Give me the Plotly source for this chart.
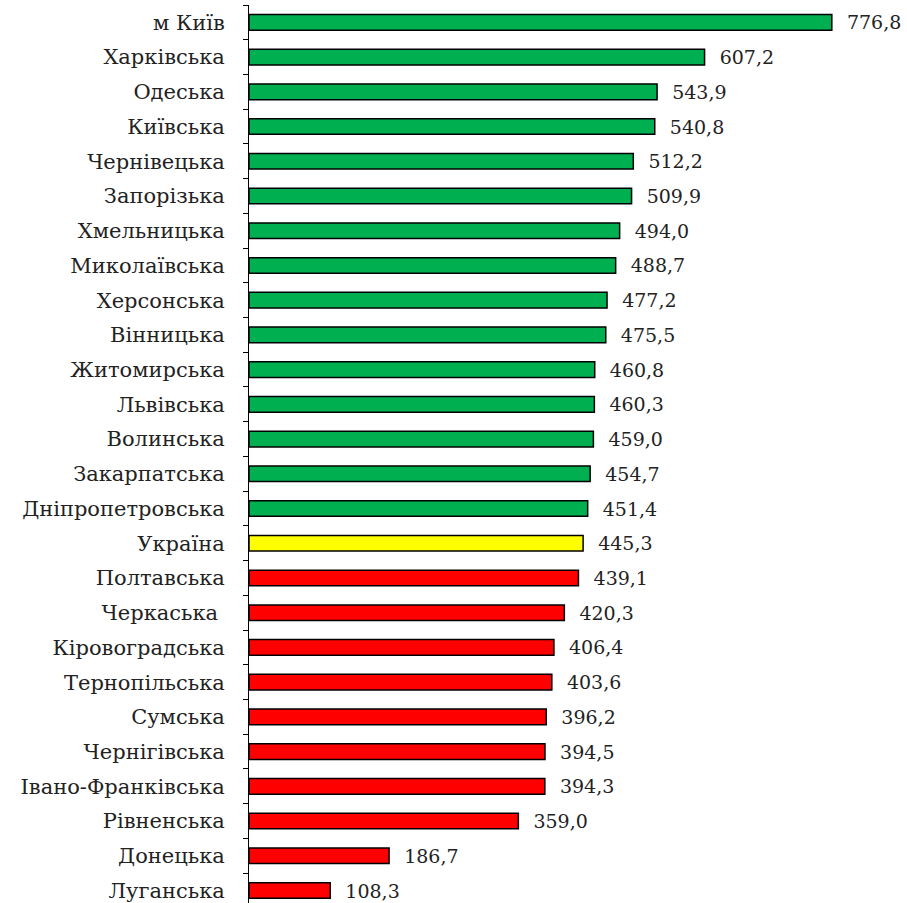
import plotly.graph_objects as go

regions = ["м Київ", "Харківська", "Одеська", "Київська", "Чернівецька", "Запорізька",
           "Хмельницька", "Миколаївська", "Херсонська", "Вінницька", "Житомирська",
           "Львівська", "Волинська", "Закарпатська", "Дніпропетровська", "Україна",
           "Полтавська", "Черкаська ", "Кіровоградська", "Тернопільська", "Сумська",
           "Чернігівська", "Івано-Франківська", "Рівненська", "Донецька", "Луганська"]
values = [776.8, 607.2, 543.9, 540.8, 512.2, 509.9, 494.0, 488.7, 477.2, 475.5, 460.8,
          460.3, 459.0, 454.7, 451.4, 445.3, 439.1, 420.3, 406.4, 403.6, 396.2, 394.5,
          394.3, 359.0, 186.7, 108.3]

ukraine_value = 445.3
colors = []
for r, v in zip(regions, values):
    if r == "Україна":
        colors.append("#FFFF00")
    elif v > ukraine_value:
        colors.append("#00B050")
    else:
        colors.append("#FF0000")

labels = ["\u00a0\u00a0" + f"{v:.1f}".replace(".", ",") for v in values]

FONT = "DejaVu Serif"

fig = go.Figure(go.Bar(
    x=values, y=regions, orientation="h",
    marker=dict(color=colors, line=dict(color="black", width=1.5)),
    width=0.45,
    text=labels, textposition="outside", cliponaxis=False, constraintext="none",
    textfont=dict(family=FONT, size=19, color="#222222"),
    hoverinfo="skip",
))

fig.update_layout(
    width=907, height=903,
    margin=dict(l=249, r=0, t=5, b=0, autoexpand=False),
    paper_bgcolor="white", plot_bgcolor="white",
    showlegend=False,
    font=dict(family=FONT, size=19, color="#222222"),
    xaxis=dict(range=[0, 877], visible=False, showgrid=False),
    yaxis=dict(
        type="category", categoryorder="array", categoryarray=regions,
        range=[25.36, -0.5], showline=True, linecolor="black", linewidth=1,
        ticks="outside", tickson="boundaries", ticklen=5, tickcolor="black",
        ticklabelstandoff=19, showgrid=False, automargin=False,
        tickfont=dict(family=FONT, size=21, color="#222222"),
    ),
)

fig.write_html("out.html", config={"displayModeBar": False},
               post_script="document.body.style.margin='0';")
